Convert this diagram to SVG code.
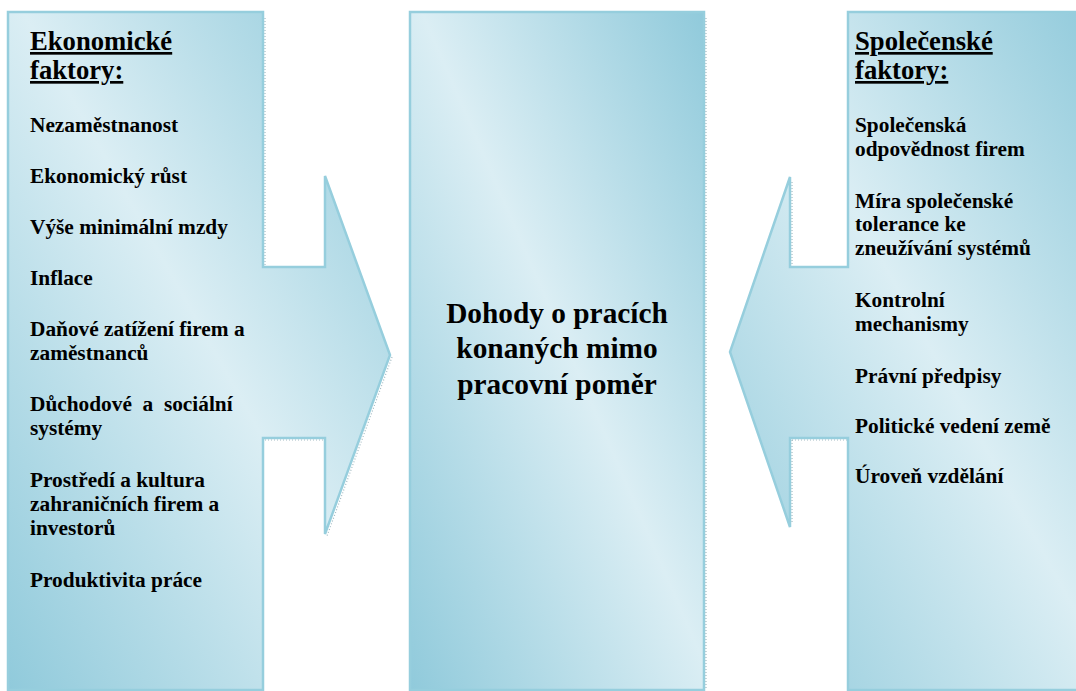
<svg xmlns="http://www.w3.org/2000/svg" width="1076" height="691" viewBox="0 0 1076 691">
<defs>
<linearGradient id="g" x1="1" y1="0" x2="0" y2="1">
<stop offset="0" stop-color="#90cadb"/>
<stop offset="0.48" stop-color="#dbeef4"/>
<stop offset="1" stop-color="#90cadb"/>
</linearGradient>
<style>
.shape{fill:url(#g);stroke:#96cedd;stroke-width:2.5;stroke-linejoin:miter}
.sh{fill:none;stroke:#7c9ea8;stroke-width:1.2;stroke-dasharray:1 2;opacity:0.7}
.t{font-size:26.67px;text-decoration:underline}
.i{font-size:21.33px}
.c{font-size:29.33px;text-anchor:middle}
</style>
</defs>
<rect width="1076" height="691" fill="#fff"/>
<g id="connectors">
<line class="sh" x1="265" y1="18" x2="265" y2="266"/>
<line class="sh" x1="265" y1="440" x2="325" y2="440"/>
<line class="sh" x1="392" y1="357" x2="327" y2="536"/>
<line class="sh" x1="792" y1="182" x2="792" y2="266"/>
<line class="sh" x1="792" y1="440" x2="848" y2="440"/>
<line class="sh" x1="792" y1="440" x2="792" y2="524"/>
</g>
<g id="economic" font-family="Liberation Serif, Times New Roman, serif" font-weight="700">
<path class="shape" d="M8,12 H263 V267 H325 V176 L390,355 L325,534 V438 H263 V690 H8 Z"/>
<text class="t" x="30" y="50">Ekonomické</text>
<text class="t" x="30" y="79">faktory:</text>
<text class="i" x="30" y="132">Nezaměstnanost</text>
<text class="i" x="30" y="183">Ekonomický růst</text>
<text class="i" x="30" y="234">Výše minimální mzdy</text>
<text class="i" x="30" y="285">Inflace</text>
<text class="i" x="30" y="336">Daňové zatížení firem a</text>
<text class="i" x="30" y="360">zaměstnanců</text>
<text class="i" x="30" y="411" xml:space="preserve">Důchodové  a  sociální</text>
<text class="i" x="30" y="435">systémy</text>
<text class="i" x="30" y="487">Prostředí a kultura</text>
<text class="i" x="30" y="511">zahraničních firem a</text>
<text class="i" x="30" y="535">investorů</text>
<text class="i" x="30" y="587">Produktivita práce</text>
</g>
<g id="center" font-family="Liberation Serif, Times New Roman, serif" font-weight="700">
<rect class="shape" x="410" y="12" width="294" height="678"/>
<line class="sh" x1="706" y1="18" x2="706" y2="690"/>
<text class="c" x="557" y="323">Dohody o pracích</text>
<text class="c" x="557" y="358">konaných mimo</text>
<text class="c" x="557" y="394">pracovní poměr</text>
</g>
<g id="social" font-family="Liberation Serif, Times New Roman, serif" font-weight="700">
<path class="shape" d="M1104,12 H848 V267 H790 V177 L730,352 L790,527 V438 H848 V690 H1104 Z"/>
<text class="t" x="855" y="50">Společenské</text>
<text class="t" x="855" y="79">faktory:</text>
<text class="i" x="855" y="132">Společenská</text>
<text class="i" x="855" y="156">odpovědnost firem</text>
<text class="i" x="855" y="208">Míra společenské</text>
<text class="i" x="855" y="231">tolerance ke</text>
<text class="i" x="855" y="255">zneužívání systémů</text>
<text class="i" x="855" y="307">Kontrolní</text>
<text class="i" x="855" y="331">mechanismy</text>
<text class="i" x="855" y="383">Právní předpisy</text>
<text class="i" x="855" y="433">Politické vedení země</text>
<text class="i" x="855" y="483">Úroveň vzdělání</text>
</g>
</svg>
